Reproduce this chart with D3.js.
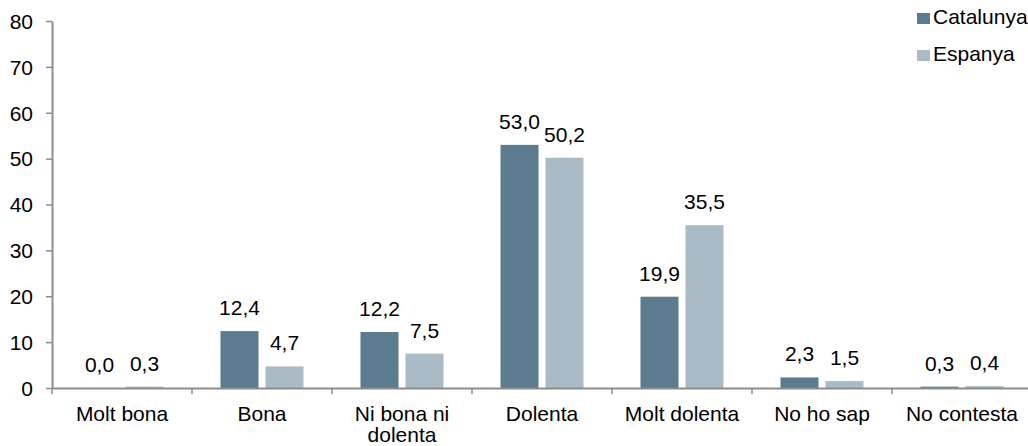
<!DOCTYPE html>
<html>
<head>
<meta charset="utf-8">
<script src="https://cdn.jsdelivr.net/npm/d3@7"></script>
<style>
  body { margin: 0; background: #fff; }
  text { font-family: "Liberation Sans", Arial, sans-serif; fill: #000; }
</style>
</head>
<body>
<div id="chart"></div>
<script>
// categories and values
const categories = ["Molt bona", "Bona", "Ni bona ni dolenta", "Dolenta", "Molt dolenta", "No ho sap", "No contesta"];
const catalunya = [0.0, 12.4, 12.2, 53.0, 19.9, 2.3, 0.3];
const espanya = [0.3, 4.7, 7.5, 50.2, 35.5, 1.5, 0.4];
const seriesNames = ["Catalunya", "Espanya"];
const colors = ["#5b7b8e", "#aabbc6"];
const yTicks = [0, 10, 20, 30, 40, 50, 60, 70, 80];

const width = 1028, height = 446;
const margin = { top: 21, right: -4, bottom: 58, left: 52 };
const fs = "21px";

const svg = d3.select("#chart")
    .append("svg")
    .attr("width", width)
    .attr("height", height);

const x = d3.scaleBand()
    .domain(categories)
    .range([margin.left, width - margin.right]);

const y = d3.scaleLinear()
    .domain([0, 80])
    .range([height - margin.bottom, margin.top]);

const barW = 38, gap = 7;
const x1 = d3.scaleOrdinal()
    .domain(seriesNames)
    .range([x.bandwidth() / 2 - gap / 2 - barW, x.bandwidth() / 2 + gap / 2]);

const data = categories.map((c, i) => ({ cat: c, values: [catalunya[i], espanya[i]] }));

// bars
const groups = svg.selectAll(".grp")
    .data(data)
    .enter().append("g")
    .attr("transform", d => `translate(${x(d.cat)},0)`);

groups.selectAll("rect")
    .data(d => d.values.map((v, k) => ({ key: seriesNames[k], v: v, k: k })))
    .enter().append("rect")
    .attr("x", d => x1(d.key))
    .attr("y", d => y(d.v))
    .attr("width", barW)
    .attr("height", d => y(0) - y(d.v))
    .attr("fill", d => colors[d.k]);

groups.selectAll(".lbl")
    .data(d => d.values.map((v, k) => ({ key: seriesNames[k], v: v })))
    .enter().append("text")
    .attr("class", "lbl")
    .attr("x", d => x1(d.key) + barW / 2)
    .attr("y", d => y(d.v) - 16)
    .attr("text-anchor", "middle")
    .style("font-size", fs)
    .text(d => d.v.toFixed(1).replace(".", ","));

// y axis
const yAxis = svg.append("g")
    .attr("transform", `translate(${margin.left},0)`)
    .call(d3.axisLeft(y).tickValues(yTicks).tickSize(6).tickPadding(13).tickSizeOuter(0));
yAxis.selectAll("text").style("font-size", fs).attr("dy", "0.35em");

// x axis
const xAxis = svg.append("g")
    .attr("transform", `translate(0,${y(0)})`)
    .call(d3.axisBottom(x).tickSize(0).tickFormat(""));
xAxis.selectAll("line").remove();

// category boundary ticks
svg.append("g").selectAll("line")
    .data(categories)
    .enter().append("line")
    .attr("x1", d => x(d)).attr("x2", d => x(d))
    .attr("y1", y(0)).attr("y2", y(0) + 6)
    .attr("stroke", "#8c8c8c").attr("stroke-width", 1.5);

svg.selectAll(".domain").attr("stroke", "#8c8c8c").attr("stroke-width", 2);
svg.selectAll(".tick line").attr("stroke", "#8c8c8c").attr("stroke-width", 1.5);

// category labels (wrapped)
const wraps = { "Ni bona ni dolenta": ["Ni bona ni", "dolenta"] };
svg.append("g").selectAll("text")
    .data(categories)
    .enter().append("text")
    .attr("x", d => x(d) + x.bandwidth() / 2)
    .attr("y", y(0) + 33)
    .attr("text-anchor", "middle")
    .style("font-size", fs)
    .each(function(d) {
        const lines = wraps[d] || [d];
        d3.select(this).selectAll("tspan")
            .data(lines)
            .enter().append("tspan")
            .attr("x", x(d) + x.bandwidth() / 2)
            .attr("dy", (l, i) => i === 0 ? 0 : 21)
            .text(l => l);
    });

// legend
const legend = svg.append("g").attr("transform", "translate(917,13)");
seriesNames.forEach((s, i) => {
    const g = legend.append("g").attr("transform", `translate(0,${i * 37})`);
    g.append("rect").attr("width", 13).attr("height", 11).attr("fill", colors[i]);
    g.append("text").attr("x", 16).attr("y", 11).style("font-size", fs).text(s);
});
</script>
</body>
</html>
